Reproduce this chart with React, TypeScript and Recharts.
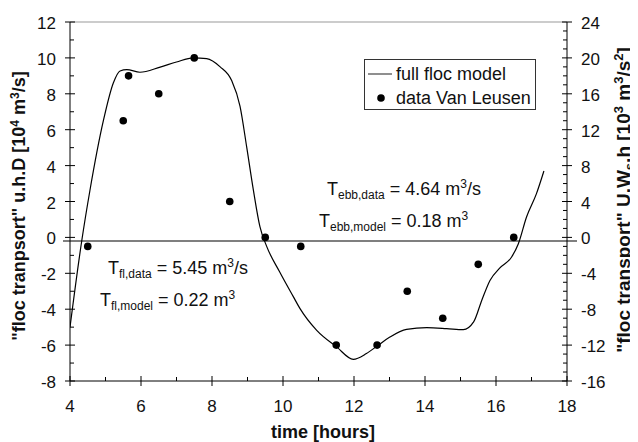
import React from 'react'
import { ComposedChart, Line, Scatter, XAxis, YAxis, ReferenceLine, Legend, Label } from 'recharts'

// full floc model curve
const modelX = [4.0, 4.33, 4.56, 4.94, 5.22, 5.41, 5.6, 5.97, 6.54, 7.0, 7.47, 7.85, 8.23, 8.55, 8.79, 8.98, 9.16, 9.35, 9.54, 9.9, 10.29, 10.48, 10.95, 11.51, 11.98, 12.35, 12.68, 13.01, 13.48, 14.05, 14.61, 15.08, 15.37, 15.6, 15.83, 16.11, 16.44, 16.63, 16.86, 17.14, 17.35]
const modelY = [-5.0, -0.2, 2.6, 6.5, 8.6, 9.27, 9.35, 9.2, 9.49, 9.77, 10.0, 9.96, 9.5, 8.75, 7.3, 5.0, 2.7, 0.6, -0.5, -1.9, -3.3, -3.97, -5.18, -6.1, -6.79, -6.47, -6.01, -5.55, -5.12, -5.03, -5.08, -5.14, -4.71, -3.5, -2.4, -1.7, -1.09, -0.35, 1.14, 2.44, 3.7]

// data Van Leusen
const dataX = [4.5, 5.5, 5.65, 6.5, 7.5, 8.5, 9.5, 10.5, 11.5, 12.65, 13.5, 14.5, 15.5, 16.5]
const dataY = [-0.5, 6.5, 9, 8, 10, 2, 0, -0.5, -6, -6, -3, -4.5, -1.5, 0]

const xTicks = [4, 5, 6, 7, 8, 9, 10, 11, 12, 13, 14, 15, 16, 17, 18]
const leftTicks = [-8, -7, -6, -5, -4, -3, -2, -1, 0, 1, 2, 3, 4, 5, 6, 7, 8, 9, 10, 11, 12]
const rightTicks = [-16, -15, -14, -13, -12, -11, -10, -9, -8, -7, -6, -5, -4, -3, -2, -1, 0, 1, 2, 3, 4, 5, 6, 7, 8, 9, 10, 11, 12, 13, 14, 15, 16, 17, 18, 19, 20, 21, 22, 23, 24]

const FONT = '"Liberation Sans", Arial, sans-serif'

const modelData = modelX.map((x, i) => ({ x, y: modelY[i] }))
const pointData = dataX.map((x, i) => ({ x, y: dataY[i] }))

// eslint-disable-next-line @typescript-eslint/no-explicit-any
const LeftTick = ({ x, y, payload }: any) => {
  const v = payload.value
  const major = v % 2 === 0
  return (
    <g>
      <line x1={major ? x - 5 : x} x2={major ? x + 5 : x + 4} y1={y} y2={y} stroke="#000" />
      {major && (
        <text x={x - 14} y={y + 7} textAnchor="end" fontSize={17} fontFamily={FONT} fill="#111">
          {v}
        </text>
      )}
    </g>
  )
}

// eslint-disable-next-line @typescript-eslint/no-explicit-any
const RightTick = ({ x, y, payload }: any) => {
  const v = payload.value
  const major = v % 4 === 0
  return (
    <g>
      <line x1={major ? x - 5 : x - 4} x2={major ? x + 5 : x} y1={y} y2={y} stroke="#000" />
      {major && (
        <text x={x + 14} y={y + 7} textAnchor="start" fontSize={17} fontFamily={FONT} fill="#111">
          {v}
        </text>
      )}
    </g>
  )
}

// eslint-disable-next-line @typescript-eslint/no-explicit-any
const BottomTick = ({ x, y, payload }: any) => {
  const v = payload.value
  const major = v % 2 === 0
  return (
    <g>
      <line x1={x} x2={x} y1={major ? y - 5 : y - 4} y2={major ? y + 5 : y} stroke="#000" />
      {major && (
        <text x={x} y={y + 31} textAnchor="middle" fontSize={17} fontFamily={FONT} fill="#111">
          {v}
        </text>
      )}
    </g>
  )
}

const Sup = ({ children }: { children: React.ReactNode }) => (
  <span style={{ fontSize: 12, position: 'relative', top: -7 }}>{children}</span>
)
const Sub = ({ children }: { children: React.ReactNode }) => (
  <span style={{ fontSize: 12, position: 'relative', top: 4 }}>{children}</span>
)

// eslint-disable-next-line @typescript-eslint/no-explicit-any
function LegendBox({ payload }: any) {
  // line entry first, as in the original figure
  // eslint-disable-next-line @typescript-eslint/no-explicit-any
  const items = [...(payload || [])].sort((a: any, b: any) => (a.type === 'line' ? -1 : 0) - (b.type === 'line' ? -1 : 0))
  return (
    <div
      style={{
        width: 172,
        height: 51,
        boxSizing: 'border-box',
        border: '1px solid #333',
        background: '#fff',
        paddingTop: 2,
        fontFamily: FONT,
        fontSize: 18,
        color: '#111',
      }}
    >
      {/* eslint-disable-next-line @typescript-eslint/no-explicit-any */}
      {items.map((it: any) => (
        <div key={it.value} style={{ height: 24, lineHeight: '24px', display: 'flex', alignItems: 'center' }}>
          <svg width={30} height={24} style={{ flex: 'none' }}>
            {it.type === 'line' ? (
              <line x1={3} x2={27} y1={12} y2={12} stroke="#444" strokeWidth={1.2} />
            ) : (
              <circle cx={16} cy={12} r={3.8} fill="#000" />
            )}
          </svg>
          <span style={{ marginLeft: 1, whiteSpace: 'nowrap' }}>{it.value}</span>
        </div>
      ))}
    </div>
  )
}

const leftTitle = () => (
  <text
    transform="translate(17,198) rotate(-90)"
    textAnchor="middle"
    fontSize={18}
    fontWeight="bold"
    fontFamily={FONT}
    fill="#111"
  >
    "floc tranpsort" u.h.D [10<tspan dy={-6} fontSize={12}>4</tspan>
    <tspan dy={6}> m</tspan>
    <tspan dy={-6} fontSize={12}>3</tspan>
    <tspan dy={6}>/s]</tspan>
  </text>
)

const rightTitle = () => (
  <text
    transform="translate(622,192) rotate(-90)"
    textAnchor="middle"
    fontSize={19}
    fontWeight="bold"
    fontFamily={FONT}
    fill="#111"
  >
    "floc transport" U.W<tspan dy={4} fontSize={13}>s</tspan>
    <tspan dy={-4}>.h [10</tspan>
    <tspan dy={-7} fontSize={13}>3</tspan>
    <tspan dy={7}> m</tspan>
    <tspan dy={-7} fontSize={13}>3</tspan>
    <tspan dy={7}>/s</tspan>
    <tspan dy={-7} fontSize={13}>2</tspan>
    <tspan dy={7}>]</tspan>
  </text>
)

const bottomTitle = () => (
  <text x={315} y={430} textAnchor="middle" fontSize={18} fontWeight="bold" fontFamily={FONT} fill="#111">
    time [hours]
  </text>
)

// eslint-disable-next-line @typescript-eslint/no-explicit-any
const zeroLine = (p: any) => (
  <line x1={p.x1 - 7} x2={p.x2 + 10} y1={p.y1} y2={p.y2} stroke="#000" strokeWidth={1.2} />
)

const noteStyle: React.CSSProperties = {
  position: 'absolute',
  fontFamily: FONT,
  fontSize: 18,
  lineHeight: '18px',
  color: '#111',
  whiteSpace: 'nowrap',
}

export default function App() {
  return (
    <div style={{ position: 'relative', width: 630, height: 434, fontFamily: FONT }}>
      <ComposedChart width={630} height={434} margin={{ top: 14, right: 0, bottom: 0, left: 0 }} style={{ overflow: 'visible' }}>
        <XAxis
          type="number"
          dataKey="x"
          domain={[4, 18]}
          ticks={xTicks}
          interval={0}
          height={61}
          tickSize={0}
          tickMargin={0}
          tick={<BottomTick />}
          axisLine={{ stroke: '#000' }}
          allowDataOverflow
        >
          <Label content={bottomTitle} />
        </XAxis>
        <YAxis
          yAxisId="left"
          type="number"
          domain={[-8, 12]}
          ticks={leftTicks}
          interval={0}
          width={62}
          tickSize={0}
          tickMargin={0}
          tick={<LeftTick />}
          axisLine={{ stroke: '#000' }}
          allowDataOverflow
        >
          <Label content={leftTitle} />
        </YAxis>
        <YAxis
          yAxisId="right"
          orientation="right"
          type="number"
          domain={[-16, 24]}
          ticks={rightTicks}
          interval={0}
          width={71}
          tickSize={0}
          tickMargin={0}
          tick={<RightTick />}
          axisLine={{ stroke: '#000' }}
          allowDataOverflow
        >
          <Label content={rightTitle} />
        </YAxis>
        <ReferenceLine yAxisId="left" y={12} stroke="#999" />
        <ReferenceLine yAxisId="left" y={-0.2} shape={zeroLine} />
        <Line
          yAxisId="left"
          name="full floc model"
          data={modelData}
          dataKey="y"
          type="monotone"
          stroke="#000"
          strokeWidth={1.2}
          dot={false}
          legendType="line"
          isAnimationActive={false}
        />
        <Scatter
          yAxisId="left"
          name="data Van Leusen"
          data={pointData}
          dataKey="y"
          legendType="circle"
          shape={(p: any) => <circle cx={p.cx} cy={p.cy} r={3.8} fill="#000" />}
          isAnimationActive={false}
        />
        <Legend
          layout="horizontal"
          verticalAlign="middle"
          align="center"
          content={<LegendBox />}
          wrapperStyle={{ position: 'absolute', left: 356, top: 51, width: 172, height: 51 }}
        />
      </ComposedChart>
      <div style={{ ...noteStyle, left: 319, top: 172 }}>
        T<Sub>ebb,data</Sub> = 4.64 m<Sup>3</Sup>/s
      </div>
      <div style={{ ...noteStyle, left: 311, top: 204 }}>
        T<Sub>ebb,model</Sub> = 0.18 m<Sup>3</Sup>
      </div>
      <div style={{ ...noteStyle, left: 100, top: 251 }}>
        T<Sub>fl,data</Sub> = 5.45 m<Sup>3</Sup>/s
      </div>
      <div style={{ ...noteStyle, left: 92, top: 283 }}>
        T<Sub>fl,model</Sub> = 0.22 m<Sup>3</Sup>
      </div>
    </div>
  )
}
